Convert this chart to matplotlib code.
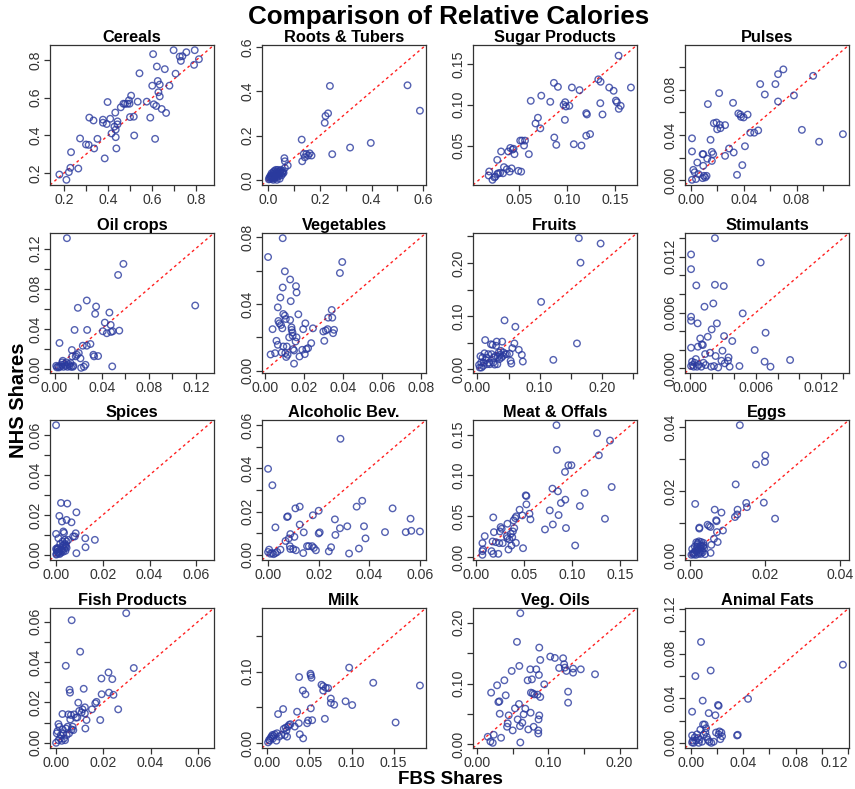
import matplotlib
matplotlib.use("Agg")
import matplotlib.pyplot as plt
from matplotlib.ticker import MultipleLocator, FuncFormatter
import numpy as np

plt.rcParams['font.family'] = ['Liberation Sans', 'DejaVu Sans']

# ---------------- data (FBS share = x, NHS share = y) ----------------
titles = ["Cereals", "Roots & Tubers", "Sugar Products", "Pulses",
          "Oil crops", "Vegetables", "Fruits", "Stimulants",
          "Spices", "Alcoholic Bev.", "Meat & Offals", "Eggs",
          "Fish Products", "Milk", "Veg. Oils", "Animal Fats"]

cereals_x = [0.178, 0.21, 0.221, 0.228, 0.231, 0.264, 0.272, 0.299, 0.311, 0.314, 0.333, 0.336, 0.351, 0.376, 0.376, 0.384,
             0.393, 0.397, 0.409, 0.415, 0.428, 0.432, 0.434, 0.434, 0.437, 0.442, 0.442, 0.457, 0.469, 0.476, 0.487, 0.494,
             0.497, 0.499, 0.504, 0.516, 0.518, 0.534, 0.542, 0.575, 0.591, 0.6, 0.604, 0.607, 0.613, 0.618, 0.621, 0.625,
             0.628, 0.634, 0.634, 0.643, 0.657, 0.663, 0.678, 0.697, 0.706, 0.725, 0.73, 0.737, 0.755, 0.79, 0.793, 0.812]
cereals_y = [0.191, 0.163, 0.204, 0.227, 0.31, 0.223, 0.383, 0.351, 0.349, 0.494, 0.479, 0.33, 0.381, 0.483, 0.467, 0.277,
             0.46, 0.577, 0.488, 0.41, 0.446, 0.521, 0.43, 0.39, 0.33, 0.474, 0.458, 0.549, 0.568, 0.567, 0.568, 0.586,
             0.568, 0.497, 0.611, 0.499, 0.399, 0.579, 0.73, 0.579, 0.494, 0.664, 0.832, 0.565, 0.381, 0.556, 0.766, 0.689,
             0.629, 0.67, 0.607, 0.54, 0.752, 0.519, 0.664, 0.853, 0.728, 0.819, 0.796, 0.821, 0.842, 0.775, 0.853, 0.805]

roots_x = [0.003, 0.005, 0.008, 0.01, 0.012, 0.014, 0.015, 0.017, 0.018, 0.02, 0.021, 0.022, 0.024, 0.025, 0.026, 0.028,
           0.03, 0.031, 0.032, 0.034, 0.035, 0.036, 0.038, 0.04, 0.042, 0.044, 0.046, 0.048, 0.05, 0.052, 0.054, 0.056,
           0.058, 0.06, 0.034, 0.009, 0.02, 0.045,
           0.063, 0.065, 0.076, 0.065, 0.13, 0.132, 0.138, 0.142, 0.148, 0.155, 0.161, 0.168, 0.219, 0.222, 0.232, 0.239,
           0.248, 0.317, 0.397, 0.539, 0.587]
roots_y = [0.002, 0.01, 0.004, 0.02, 0.008, 0.03, 0.015, 0.005, 0.025, 0.012, 0.035, 0.02, 0.04, 0.008, 0.03, 0.015,
           0.045, 0.025, 0.01, 0.038, 0.02, 0.03, 0.045, 0.015, 0.035, 0.025, 0.04, 0.03, 0.045, 0.02, 0.035, 0.028,
           0.04, 0.032, 0.0, 0.015, 0.0, 0.005,
           0.098, 0.084, 0.065, 0.054, 0.182, 0.084, 0.117, 0.102, 0.117, 0.11, 0.12, 0.11, 0.258, 0.289, 0.301, 0.425,
           0.116, 0.146, 0.167, 0.428, 0.313]

sugar_x = [0.0186, 0.018, 0.022, 0.024, 0.025, 0.027, 0.027, 0.028, 0.030, 0.031, 0.033, 0.034, 0.037, 0.0385, 0.040, 0.0406,
           0.042, 0.043, 0.044, 0.045, 0.049, 0.051, 0.052, 0.053, 0.055, 0.056, 0.060, 0.062, 0.067, 0.0695, 0.072, 0.073,
           0.0824, 0.0862, 0.0866, 0.0887, 0.0904, 0.0963, 0.0977, 0.098, 0.0988, 0.1023, 0.105, 0.107, 0.113, 0.115, 0.120, 0.120,
           0.1207, 0.124, 0.1326, 0.135, 0.1347, 0.137, 0.144, 0.1486, 0.151, 0.152, 0.154, 0.156, 0.1538, 0.1667]
sugar_y = [0.0182, 0.0133, 0.008, 0.011, 0.012, 0.015, 0.0324, 0.016, 0.0165, 0.0427, 0.016, 0.0235, 0.021, 0.0427, 0.018, 0.047,
           0.022, 0.045, 0.046, 0.0394, 0.019, 0.056, 0.018, 0.056, 0.05, 0.056, 0.0394, 0.1047, 0.077, 0.084, 0.071, 0.111,
           0.1035, 0.1267, 0.0598, 0.0508, 0.1218, 0.0998, 0.0814, 0.103, 0.0978, 0.0986, 0.121, 0.0516, 0.1178, 0.05, 0.062, 0.0896,
           0.088, 0.064, 0.131, 0.128, 0.1018, 0.088, 0.121, 0.117, 0.105, 0.103, 0.0949, 0.0986, 0.16, 0.121]

pulses_x = [0.001, 0.001, 0.001, 0.002, 0.003, 0.004, 0.005, 0.006, 0.009, 0.0095, 0.0095, 0.009, 0.010, 0.011, 0.012, 0.0125,
            0.013, 0.015, 0.016, 0.016, 0.017, 0.0175, 0.0195, 0.020, 0.0215, 0.022, 0.0225, 0.026, 0.026, 0.029, 0.032, 0.0325,
            0.035, 0.036, 0.0375, 0.038, 0.039, 0.040, 0.041, 0.043, 0.045, 0.048, 0.051, 0.0525, 0.056, 0.064, 0.066, 0.066,
            0.070, 0.078, 0.084, 0.0925, 0.097, 0.115]
pulses_y = [0.0003, 0.0254, 0.037, 0.0091, 0.007, 0.001, 0.0156, 0.0053, 0.023, 0.023, 0.0127, 0.0018, 0.0038, 0.0024, 0.0038, 0.019,
            0.0673, 0.0357, 0.017, 0.025, 0.023, 0.0504, 0.051, 0.045, 0.077, 0.049, 0.046, 0.0487, 0.0215, 0.028, 0.0684, 0.0245,
            0.0047, 0.059, 0.058, 0.056, 0.0133, 0.0555, 0.030, 0.058, 0.042, 0.042, 0.044, 0.085, 0.0758, 0.085, 0.0938, 0.0696,
            0.098, 0.075, 0.0445, 0.0923, 0.034, 0.0407]

oil_x = [0.0014, 0.002, 0.003, 0.0037, 0.0042, 0.005, 0.006, 0.0065, 0.007, 0.0076, 0.0085, 0.0093, 0.010, 0.0105, 0.011, 0.012,
         0.0127, 0.0136, 0.014, 0.0147, 0.015, 0.0155, 0.016, 0.017, 0.018, 0.019, 0.0198, 0.0206, 0.022, 0.0226, 0.024, 0.025,
         0.0263, 0.0274, 0.0277, 0.0274, 0.0305, 0.033, 0.0336, 0.0345, 0.0353, 0.037, 0.041, 0.0427, 0.0444, 0.0466, 0.0477, 0.048,
         0.049, 0.0494, 0.054, 0.055, 0.0585, 0.1195]
oil_y = [0.0033, 0.0017, 0.0027, 0.0017, 0.026, 0.0027, 0.0043, 0.0067, 0.0083, 0.0023, 0.005, 0.0033, 0.0067, 0.1303, 0.0023, 0.005,
         0.0033, 0.006, 0.0023, 0.019, 0.0127, 0.0023, 0.0033, 0.039, 0.0127, 0.0143, 0.061, 0.016, 0.0107, 0.0013, 0.0233, 0.0023,
         0.0043, 0.0683, 0.039, 0.0233, 0.025, 0.0143, 0.0127, 0.055, 0.0623, 0.013, 0.0377, 0.0463, 0.0357, 0.0563, 0.044, 0.037,
         0.0027, 0.0377, 0.0937, 0.0383, 0.1047, 0.0633]

veg_x = [0.0017, 0.003, 0.004, 0.0053, 0.006, 0.0067, 0.0067, 0.007, 0.0075, 0.008, 0.0083, 0.0087, 0.009, 0.0092, 0.0092, 0.0095,
         0.0095, 0.0103, 0.0103, 0.0105, 0.0108, 0.011, 0.0113, 0.0117, 0.0125, 0.013, 0.013, 0.0133, 0.0137, 0.0138, 0.0142, 0.0143,
         0.0145, 0.015, 0.015, 0.0158, 0.016, 0.0163, 0.0163, 0.0172, 0.0178, 0.0192, 0.0197, 0.0205, 0.0208, 0.0213, 0.0222, 0.0238,
         0.0247, 0.03, 0.0305, 0.0313, 0.0322, 0.0325, 0.0343, 0.0346, 0.035, 0.0355, 0.0385, 0.0397]
veg_y = [0.0682, 0.0097, 0.0249, 0.0105, 0.0179, 0.038, 0.0155, 0.0298, 0.0284, 0.0439, 0.0274, 0.0109, 0.0254, 0.0795, 0.0499, 0.034,
         0.0145, 0.0596, 0.033, 0.0105, 0.031, 0.0082, 0.0145, 0.0095, 0.02, 0.0547, 0.0304, 0.0417, 0.026, 0.0245, 0.0229, 0.0209,
         0.0129, 0.0042, 0.0121, 0.0175, 0.0507, 0.0469, 0.02, 0.0338, 0.0085, 0.0125, 0.0249, 0.0099, 0.0284, 0.0129, 0.0135, 0.0165,
         0.0254, 0.0235, 0.0179, 0.0241, 0.0249, 0.0318, 0.0364, 0.0318, 0.0225, 0.0245, 0.0586, 0.0652]

fruits_x = [0.0027, 0.0038, 0.0049, 0.006, 0.0065, 0.0082, 0.0093, 0.010, 0.0114, 0.0125, 0.0136, 0.0147, 0.0158, 0.0174, 0.019, 0.020,
            0.0218, 0.0229, 0.0245, 0.0256, 0.0267, 0.0278, 0.0289, 0.030, 0.031, 0.032, 0.033, 0.0343, 0.0354, 0.0365, 0.0376, 0.0387,
            0.0398, 0.041, 0.042, 0.0436, 0.0447, 0.0474, 0.0518, 0.0534, 0.0545, 0.0561, 0.0594, 0.061, 0.0665, 0.0714, 0.073, 0.1024,
            0.122, 0.160, 0.163, 0.1657, 0.198]
fruits_y = [0.0082, 0.0032, 0.0246, 0.0126, 0.0032, 0.022, 0.0063, 0.0126, 0.030, 0.0549, 0.017, 0.022, 0.0095, 0.0284, 0.0126, 0.0095,
            0.047, 0.0284, 0.046, 0.0126, 0.022, 0.0088, 0.025, 0.0442, 0.052, 0.0095, 0.023, 0.0315, 0.019, 0.0271, 0.0347, 0.022,
            0.052, 0.025, 0.0315, 0.092, 0.0284, 0.0284, 0.0296, 0.0158, 0.0107, 0.0397, 0.0486, 0.080, 0.0366, 0.0271, 0.0145, 0.1268,
            0.0177, 0.0486, 0.2467, 0.2006, 0.2366]

stim_x = [0.00006, 0.00006, 0.00006, 0.00006, 0.00006, 0.00006, 0.00015, 0.0002, 0.0003, 0.0004, 0.0005, 0.00054, 0.0006, 0.00066,
          0.00069, 0.00075, 0.0009, 0.001, 0.00105, 0.00114, 0.0012, 0.00129, 0.00135, 0.0014, 0.00159, 0.0018, 0.0019, 0.00195,
          0.0021, 0.00216, 0.00225, 0.00225, 0.00231, 0.00243, 0.00255, 0.00285, 0.00294, 0.00306, 0.00309, 0.00315, 0.00345,
          0.0035, 0.0036, 0.00384, 0.0045, 0.0048, 0.0059, 0.00645, 0.00681, 0.0069, 0.00735, 0.00915]
stim_y = [0.01225, 0.01067, 0.00555, 0.00512, 0.00222, 0.00025, 0.00072, 0.00036, 0.00018, 0.0006, 0.001, 0.00892, 0.00018, 0.00484,
          0.00233, 0.00036, 0.00322, 0.00018, 0.00258, 0.00251, 0.0006, 0.00663, 0.00154, 0.00036, 0.0034, 0.00168, 0.00018, 0.00419,
          0.00698, 0.00025, 0.014, 0.00899, 0.00133, 0.00484, 0.0001, 0.00082, 0.0019, 0.00885, 0.00347, 0.00054, 0.00082,
          0.00118, 0.00018, 0.00294, 0.00025, 0.00591, 0.00197, 0.01139, 0.00072, 0.00383, 0.00018, 0.0009]

spices_x = [0.0, 0.0, 0.0, 0.001, 0.0014, 0.0021, 0.0025, 0.0031, 0.0034, 0.0028, 0.0038, 0.0042, 0.0045, 0.0048, 0.0045, 0.0052,
            0.0066, 0.0073, 0.0080, 0.0084, 0.0087, 0.0087, 0.0125, 0.0126, 0.0166,
            0.0002, 0.0005, 0.0008, 0.001, 0.0012, 0.0015, 0.0003, 0.0006, 0.002, 0.0025, 0.003, 0.0035, 0.004, 0.0045,
            0.0028, 0.0018, 0.0009, 0.0001, 0.0032, 0.0038, 0.004, 0.0022]
spices_y = [0.065, 0.0105, 0.003, 0.0083, 0.0195, 0.026, 0.0167, 0.0117, 0.011, 0.0067, 0.0075, 0.0042, 0.0175, 0.0257, 0.0067, 0.0075,
            0.0163, 0.0092, 0.0092, 0.0108, 0.0213, 0.0008, 0.0083, 0.0038, 0.0075,
            0.0005, 0.0015, 0.003, 0.0008, 0.002, 0.0004, 0.0025, 0.0035, 0.001, 0.002, 0.0015, 0.003, 0.002, 0.0035,
            0.0045, 0.0055, 0.0012, 0.0001, 0.005, 0.0055, 0.0048, 0.0028]

alc_x = [0.0, 0.0017, 0.0, 0.0004, 0.0009, 0.0016, 0.0022, 0.0029, 0.0029, 0.0036, 0.0049, 0.0069, 0.0075, 0.0078, 0.0082, 0.0086,
         0.0088, 0.0088, 0.0099, 0.0104, 0.0108, 0.011, 0.0125, 0.0125, 0.0139, 0.0141, 0.0154, 0.0161, 0.0174, 0.0177, 0.0181, 0.0189,
         0.02, 0.02, 0.0204, 0.024, 0.0249, 0.0264, 0.0266, 0.0284, 0.0286, 0.0313, 0.032, 0.035, 0.0359, 0.0372, 0.0379, 0.0385,
         0.0462, 0.0492, 0.0544, 0.0563, 0.0566, 0.06]
alc_y = [0.0398, 0.0322, 0.0013, 0.0024, 0.0005, 0.0008, 0.0003, 0.0127, 0.0008, 0.0013, 0.0024, 0.0064, 0.0175, 0.0178, 0.0076, 0.004,
         0.0027, 0.0096, 0.0027, 0.0083, 0.0215, 0.0021, 0.0223, 0.014, 0.0008, 0.0104, 0.004, 0.004, 0.004, 0.0183, 0.0032, 0.0021,
         0.0204, 0.0099, 0.0104, 0.0016, 0.0035, 0.0164, 0.0092, 0.0123, 0.0537, 0.0132, 0.0006, 0.0223, 0.0029, 0.025, 0.0132, 0.0076,
         0.0105, 0.0215, 0.0105, 0.0167, 0.0111, 0.0108]

meat_x = [0.0064, 0.0064, 0.0064, 0.0071, 0.0088, 0.0159, 0.017, 0.0177, 0.0177, 0.0184, 0.0205, 0.023, 0.024, 0.0247, 0.0254, 0.0265,
          0.0276, 0.0318, 0.0325, 0.0325, 0.0336, 0.0346, 0.036, 0.0367, 0.0375, 0.0382, 0.0389, 0.0396, 0.0406, 0.0413, 0.0417, 0.0452,
          0.048, 0.0488, 0.0516, 0.0523, 0.0523, 0.0555, 0.0565, 0.0717, 0.0767, 0.0799, 0.0795, 0.0837, 0.0841, 0.0852, 0.0859, 0.0883,
          0.0929, 0.0926, 0.0936, 0.0961, 0.0993, 0.1032, 0.1081, 0.1131, 0.1261, 0.1279, 0.1343, 0.1396, 0.1413]
meat_y = [0.0029, 0.0074, 0.0172, 0.0094, 0.0257, 0.0074, 0.0192, 0.0486, 0.0041, 0.0306, 0.0184, 0.0041, 0.0172, 0.0315, 0.0368, 0.0347,
          0.0172, 0.0257, 0.0409, 0.0233, 0.0094, 0.0217, 0.0286, 0.0143, 0.0245, 0.0315, 0.045, 0.0356, 0.0478, 0.0176, 0.0499, 0.058,
          0.0511, 0.011, 0.0756, 0.0748, 0.0646, 0.0531, 0.0462, 0.0339, 0.0572, 0.04, 0.0838, 0.1614, 0.1312, 0.0805, 0.0515, 0.0662,
          0.0703, 0.1042, 0.0356, 0.1124, 0.1124, 0.0143, 0.0625, 0.0785, 0.1516, 0.1246, 0.047, 0.1426, 0.0858]

eggs_x = [0.0003, 0.0007, 0.0011, 0.0013, 0.0015, 0.0015, 0.0018, 0.002, 0.0022, 0.0023, 0.0024, 0.0024, 0.0027, 0.0028, 0.003, 0.0033,
          0.0035, 0.0037, 0.0039, 0.0046, 0.005, 0.0054, 0.0054, 0.0056, 0.0063, 0.0065, 0.0069, 0.007, 0.0071, 0.0073, 0.0083, 0.0087,
          0.0119, 0.0121, 0.0125, 0.0126, 0.0149, 0.0151, 0.0175, 0.0196, 0.0199, 0.02, 0.0226, 0.0132,
          0.0005, 0.001, 0.0012, 0.0017, 0.0019, 0.0021, 0.0025, 0.0026, 0.0029, 0.0031, 0.0034, 0.0036, 0.0008, 0.0016]
eggs_y = [0.0002, 0.0005, 0.001, 0.0161, 0.0016, 0.0002, 0.0026, 0.0039, 0.0005, 0.0044, 0.0084, 0.0087, 0.0021, 0.0005, 0.0031, 0.001,
          0.0039, 0.0023, 0.0004, 0.0096, 0.0092, 0.0089, 0.0008, 0.0033, 0.0052, 0.0143, 0.011, 0.0107, 0.0073, 0.0042, 0.0134, 0.0078,
          0.012, 0.0222, 0.0128, 0.0143, 0.0164, 0.0151, 0.0284, 0.0165, 0.0292, 0.0313, 0.0115, 0.0407,
          0.002, 0.0003, 0.0028, 0.0012, 0.0035, 0.0018, 0.001, 0.003, 0.0042, 0.0015, 0.0028, 0.0032, 0.0008, 0.0041]

fish_x = [0.0, 0.0003, 0.0006, 0.001, 0.001, 0.0014, 0.0017, 0.002, 0.0024, 0.0027, 0.0028, 0.0031, 0.0034, 0.0038, 0.0041, 0.0042,
          0.0045, 0.0049, 0.0052, 0.0055, 0.0057, 0.0059, 0.006, 0.0063, 0.0066, 0.0066, 0.007, 0.0073, 0.0076, 0.0084, 0.009, 0.0094,
          0.0098, 0.0102, 0.0108, 0.0112, 0.0117, 0.0122, 0.0122, 0.0124, 0.0129, 0.0152, 0.0166, 0.0171, 0.0187, 0.0192, 0.0193, 0.0222,
          0.0224, 0.0238, 0.0243, 0.0263, 0.0297, 0.0329]
fish_y = [0.0, 0.0047, 0.0058, 0.0013, 0.0093, 0.008, 0.0022, 0.0038, 0.001, 0.0143, 0.0066, 0.0047, 0.0022, 0.0013, 0.0382, 0.0071,
          0.0038, 0.008, 0.0141, 0.0047, 0.0263, 0.0249, 0.0116, 0.0138, 0.0608, 0.0066, 0.008, 0.0063, 0.0141, 0.0125, 0.0126, 0.0199,
          0.0158, 0.0452, 0.015, 0.0166, 0.0268, 0.0176, 0.0146, 0.0071, 0.0113, 0.0166, 0.0196, 0.0203, 0.0113, 0.0319, 0.0241, 0.0349,
          0.0249, 0.0316, 0.0238, 0.0166, 0.0643, 0.0371]

milk_x = [0.0008, 0.002, 0.0028, 0.0036, 0.0048, 0.006, 0.0067, 0.0075, 0.0087, 0.0107, 0.0115, 0.0127, 0.0139, 0.0167, 0.0187, 0.0194,
          0.0206, 0.0218, 0.0226, 0.0234, 0.0246, 0.0258, 0.0274, 0.0325, 0.0353, 0.0373, 0.0377, 0.0385, 0.0421, 0.0425, 0.0452, 0.0472,
          0.0484, 0.0512, 0.0516, 0.0524, 0.0516, 0.0532, 0.0643, 0.0663, 0.0663, 0.0683, 0.0694, 0.0722, 0.0754, 0.0754, 0.0794, 0.0929,
          0.0972, 0.1008, 0.1258, 0.1524, 0.1813]
milk_y = [0.0014, 0.0047, 0.0038, 0.007, 0.0094, 0.0117, 0.007, 0.0103, 0.0127, 0.0038, 0.0141, 0.0408, 0.0094, 0.0117, 0.0478, 0.0202,
          0.0117, 0.022, 0.0178, 0.0094, 0.0234, 0.0258, 0.0267, 0.0234, 0.0441, 0.0281, 0.0924, 0.0127, 0.0736, 0.007, 0.0684, 0.0281,
          0.0319, 0.097, 0.0947, 0.0914, 0.0488, 0.0323, 0.0816, 0.0797, 0.0736, 0.0342, 0.0774, 0.0769, 0.0624, 0.0563, 0.0539, 0.0586,
          0.1055, 0.0534, 0.0844, 0.0291, 0.0806]

vegoil_x = [0.0149, 0.0186, 0.0219, 0.0196, 0.0233, 0.028, 0.0298, 0.0312, 0.0317, 0.0336, 0.0382, 0.0401, 0.042, 0.0429, 0.0443, 0.0485,
            0.0499, 0.0531, 0.0559, 0.0569, 0.0587, 0.0592, 0.0601, 0.0606, 0.0606, 0.0634, 0.0653, 0.0676, 0.0709, 0.0718, 0.0746, 0.0751,
            0.0755, 0.0769, 0.0779, 0.0793, 0.0802, 0.083, 0.0848, 0.0858, 0.0858, 0.0862, 0.0867, 0.0872, 0.0872, 0.0886, 0.0886, 0.0942,
            0.1026, 0.1091, 0.1151, 0.1207, 0.1221, 0.1231, 0.1254, 0.1277, 0.1277, 0.1347, 0.1347, 0.1455, 0.1655]
vegoil_y = [0.0126, 0.0049, 0.0027, 0.0852, 0.0159, 0.0973, 0.0698, 0.0709, 0.0505, 0.011, 0.1055, 0.0808, 0.0291, 0.0346, 0.0478, 0.1209,
            0.0231, 0.0593, 0.1687, 0.0412, 0.0665, 0.1291, 0.0302, 0.0033, 0.2159, 0.0357, 0.0495, 0.0588, 0.1055, 0.0247, 0.1236, 0.0522,
            0.0852, 0.1071, 0.0841, 0.0291, 0.0824, 0.1236, 0.0819, 0.0231, 0.0181, 0.0412, 0.1143, 0.1593, 0.0478, 0.139, 0.078, 0.0989,
            0.1445, 0.1423, 0.1258, 0.1418, 0.1319, 0.1264, 0.1209, 0.0868, 0.0687, 0.1247, 0.1181, 0.1236, 0.1154]

fats_x = [0.0008, 0.0008, 0.0008, 0.0013, 0.002, 0.0028, 0.0033, 0.0038, 0.0046, 0.0054, 0.0059, 0.0064, 0.0071, 0.0076, 0.0084, 0.0089,
          0.0092, 0.0097, 0.0104, 0.011, 0.0115, 0.012, 0.013, 0.0135, 0.014, 0.015, 0.0155, 0.0173, 0.0186, 0.0191, 0.0206, 0.0211,
          0.0211, 0.0217, 0.0224, 0.0232, 0.0237, 0.0352, 0.0357, 0.0436, 0.1162]
fats_y = [0.0279, 0.0003, 0.0066, 0.002, 0.0, 0.0049, 0.0598, 0.002, 0.0076, 0.0043, 0.0, 0.0026, 0.0118, 0.0904, 0.001, 0.0378,
          0.0164, 0.0076, 0.0164, 0.0092, 0.0131, 0.0053, 0.0026, 0.0266, 0.001, 0.0648, 0.0, 0.001, 0.0247, 0.0092, 0.0339, 0.0332,
          0.0076, 0.0102, 0.0033, 0.0092, 0.0059, 0.0066, 0.0072, 0.0394, 0.07]

series = [(cereals_x, cereals_y), (roots_x, roots_y), (sugar_x, sugar_y), (pulses_x, pulses_y),
          (oil_x, oil_y), (veg_x, veg_y), (fruits_x, fruits_y), (stim_x, stim_y),
          (spices_x, spices_y), (alc_x, alc_y), (meat_x, meat_y), (eggs_x, eggs_y),
          (fish_x, fish_y), (milk_x, milk_y), (vegoil_x, vegoil_y), (fats_x, fats_y)]

# tick step x, label step x, tick step y, label step y, decimals
tick_cfg = [(0.1, 0.2, 0.2, 0.2, 1), (0.1, 0.2, 0.2, 0.2, 1), (0.05, 0.05, 0.05, 0.05, 2), (0.02, 0.04, 0.02, 0.04, 2),
            (0.02, 0.04, 0.02, 0.04, 2), (0.02, 0.02, 0.02, 0.04, 2), (0.05, 0.10, 0.05, 0.10, 2), (0.002, 0.006, 0.002, 0.006, 3),
            (0.02, 0.02, 0.01, 0.02, 2), (0.02, 0.02, 0.01, 0.02, 2), (0.05, 0.05, 0.05, 0.05, 2), (0.02, 0.02, 0.01, 0.02, 2),
            (0.02, 0.02, 0.01, 0.02, 2), (0.05, 0.05, 0.05, 0.10, 2), (0.05, 0.10, 0.05, 0.10, 2), (0.02, 0.04, 0.02, 0.04, 2)]

# ---------------- figure ----------------
W, H = 855, 789
fig = plt.figure(figsize=(W / 100, H / 100), dpi=100)

col_left = [50, 262, 473, 685]
row_top = [45, 233, 420, 608]
aw, ah = 164, 140
frame_col = '#333333'


def make_fmt(lstep, dec):
    def f(v, pos):
        k = v / lstep
        if abs(k - round(k)) > 1e-6:
            return ''
        if abs(v) < 1e-12:
            v = 0.0
        return f"{v:.{dec}f}"
    return f


axes = []
for i, (title, (xs, ys), cfg) in enumerate(zip(titles, series, tick_cfg)):
    r, c = divmod(i, 4)
    ax = fig.add_axes([col_left[c] / W, 1 - (row_top[r] + ah) / H, aw / W, ah / H])
    axes.append(ax)
    xs = np.asarray(xs)
    ys = np.asarray(ys)
    lo = min(xs.min(), ys.min())
    hi = max(xs.max(), ys.max())
    pad = 0.04 * (hi - lo)
    lim = (lo - pad, hi + pad)
    ax.set_xlim(lim)
    ax.set_ylim(lim)
    ax.plot(lim, lim, color='#ff2020', ls=(0, (2, 2.2)), lw=1.0, zorder=1)
    ax.scatter(xs, ys, s=22, facecolors='none', edgecolors='#2a3a9e', linewidths=1.0, alpha=0.8, zorder=2)
    ax.set_title(title, fontsize=11.8, fontweight='bold', pad=2)
    xt, xl, yt, yl, dec = cfg
    ax.xaxis.set_major_locator(MultipleLocator(xt))
    ax.yaxis.set_major_locator(MultipleLocator(yt))
    ax.xaxis.set_major_formatter(FuncFormatter(make_fmt(xl, dec)))
    ax.yaxis.set_major_formatter(FuncFormatter(make_fmt(yl, dec)))
    ax.tick_params(direction='out', length=4, width=0.9, colors=frame_col, labelsize=10.2,
                   labelcolor='#333333', pad=1.5)
    plt.setp(ax.get_yticklabels(), rotation=90, va='center')
    for sp in ax.spines.values():
        sp.set_color(frame_col)
        sp.set_linewidth(0.9)

fig.text(449 / W, 1 - 17 / H, "Comparison of Relative Calories", ha='center', va='center',
         fontsize=18.7, fontweight='bold')
fig.text(450 / W, 1 - 779 / H, "FBS Shares", ha='center', va='center', fontsize=13.5, fontweight='bold')
fig.text(18 / W, 1 - 400 / H, "NHS Shares", ha='center', va='center', rotation=90, fontsize=14.5, fontweight='bold')

# keep tick labels inside the figure (last column labels near the right edge)
fig.canvas.draw()
renderer = fig.canvas.get_renderer()
for ax in axes:
    for lab in ax.get_xticklabels():
        if lab.get_text() and lab.get_window_extent(renderer).x1 > W - 1:
            lab.set_horizontalalignment('right')

fig.savefig("out.png", dpi=100)
